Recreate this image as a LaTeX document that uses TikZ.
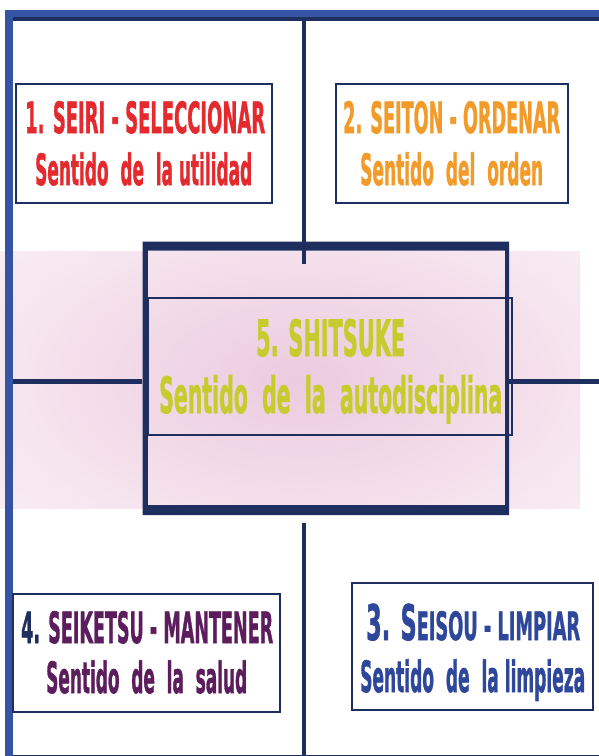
\documentclass[tikz,border=0pt]{standalone}
\usepackage{fontspec}
\usepackage{graphicx}
\newfontfamily\dvs[FakeBold=1.6]{DejaVu Sans}
\definecolor{navy}{HTML}{1E2E5E}
\definecolor{frameblue}{HTML}{3554A4}
\definecolor{redA}{HTML}{E42A2E}
\definecolor{orangeA}{HTML}{F29B2B}
\definecolor{olive}{HTML}{C8CB2E}
\definecolor{purpleA}{HTML}{5C1D5C}
\definecolor{blueA}{HTML}{2E479B}
\definecolor{pinkbg}{HTML}{FBF0F5}
\definecolor{pinkmid}{HTML}{EBCBDF}
\newcommand\fitw[2]{\resizebox{#1pt}{\height}{#2}}
\newcommand\fs[1]{\fontsize{#1}{#1}\selectfont}
\tikzset{
  smallbox/.style={draw=navy, line width=1.6pt, fill=white, inner sep=0pt},
  txt/.style={anchor=base west, inner sep=0pt, font=\dvs\bfseries\fs{43}},
  bigtxt/.style={anchor=base west, inner sep=0pt, font=\dvs\bfseries\fs{50}},
  navyline/.style={draw=navy, line width=3.5pt},
  thickline/.style={draw=navy, line width=5.5pt},
}
\begin{document}
\begin{tikzpicture}[x=1pt, y=-1pt]
\useasboundingbox (0,0) rectangle (599,756);
\fill[white] (0,0) rectangle (599,756);
% pink band with central glow
\fill[pinkbg] (0,251) rectangle (580,508);
\begin{scope}
  \clip (0,251) rectangle (580,508);
  \shade[inner color=pinkmid, outer color=pinkbg] (-120,150) rectangle (720,610);
\end{scope}
% outer frame
\fill[frameblue] (5,10) rectangle (599,16.5);
\fill[navy] (13,16.5) rectangle (599,20.5);
\fill[frameblue] (5,10) rectangle (13.3,756);
\draw[navy, line width=1pt] (13,755.5) -- (599,755.5);
% coordinates for the cross lines
\coordinate (topc) at (304,20);
\coordinate (topend) at (304,264);
\coordinate (botstart) at (304,523);
\coordinate (botc) at (304,756);
\coordinate (leftc) at (13,381.5);
\coordinate (rightc) at (599,381.5);
% big box
\fill[navy, even odd rule] (142.5,241.5) rectangle (509,515) (147.8,250.7) rectangle (505,505);
\node[inner sep=0pt, minimum width=366.5pt, minimum height=273.5pt] (big) at (325.75,378.25) {};
% inner box of item 5
\node[draw=navy, line width=1.6pt, inner sep=0pt, minimum width=364pt, minimum height=137pt] (b5) at (330,366.5) {};
% cross lines
\draw[navyline] (topc) -- (topend);
\draw[navyline] (botstart) -- (botc);
\draw[thickline] (leftc) -- (leftc -| big.west);
\draw[thickline] (rightc -| big.east) -- (rightc);
% small boxes
\node[smallbox, minimum width=256pt, minimum height=119pt] (b1) at (144,143.5) {};
\node[smallbox, minimum width=232pt, minimum height=119pt] (b2) at (452,143.5) {};
\node[smallbox, minimum width=267pt, minimum height=118pt] (b4) at (146.5,653) {};
\node[smallbox, minimum width=241pt, minimum height=127pt] (b3) at (472.5,646.5) {};
% texts
\node[txt, text=redA] (t1a) at (25,133) {\fitw{240}{1. SEIRI - SELECCIONAR}};
\node[txt, text=redA] (t1b) at (35,185) {\fitw{217}{Sentido\ \ de\ \ la utilidad}};
\node[txt, text=orangeA] (t2a) at (343,133) {\fitw{217}{2. SEITON - ORDENAR}};
\node[txt, text=orangeA] (t2b) at (360,185) {\fitw{183}{Sentido\ \ del\ \ orden}};
\node[txt, text=purpleA] (t4a) at (21,643) {\fitw{252}{\textcolor{navy}{4.} SEIKETSU - MANTENER}};
\node[txt, text=purpleA] (t4b) at (46,693) {\fitw{201}{Sentido\ \ de\ \ la\ \ salud}};
\node[txt, text=blueA] (t3a) at (366,640) {\fitw{214}{\fs{49}3. S\fs{39}EISOU - LIMPIAR}};
\node[txt, text=blueA] (t3b) at (360,692) {\fitw{225}{Sentido\ \ de\ \ la limpieza}};
\node[bigtxt, text=olive] (t5a) at (256,356) {\fitw{149}{5. SHITSUKE}};
\node[bigtxt, text=olive] (t5b) at (159,413) {\fitw{343}{Sentido\ \ de\ \ la\ \ autodisciplina}};
\end{tikzpicture}
\end{document}
